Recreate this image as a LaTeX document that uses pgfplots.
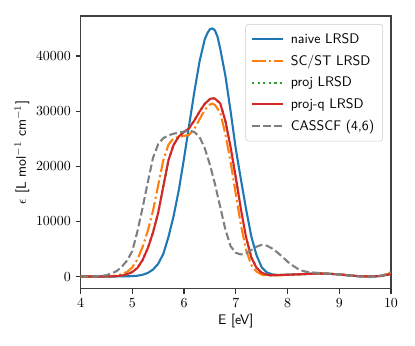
\documentclass[border=0pt]{standalone}
\usepackage{pgfplots}
\pgfplotsset{compat=1.18}
\usepackage{pgfplotstable}
\definecolor{tabblue}{HTML}{1F77B4}
\definecolor{taborange}{HTML}{FF7F0E}
\definecolor{tabgreen}{HTML}{2CA02C}
\definecolor{tabred}{HTML}{D62728}
\definecolor{tabgray}{HTML}{7F7F7F}
\pgfplotstableread{
x y
4.0 0
4.6 5
4.8 20
5.0 70
5.1 150
5.2 320
5.3 650
5.4 1250
5.5 2300
5.6 4100
5.7 7200
5.8 11000
5.9 15700
6.0 21400
6.1 27500
6.2 33500
6.3 39000
6.4 43000
6.45 44100
6.5 44850
6.55 45000
6.6 44600
6.65 43400
6.7 41300
6.8 36400
6.9 30000
7.0 23200
7.1 17600
7.2 12200
7.3 7300
7.4 3900
7.5 1700
7.6 750
7.7 400
7.8 300
8.0 320
8.2 400
8.4 480
8.6 560
8.8 500
9.0 380
9.2 200
9.4 50
9.6 0
9.8 100
10.0 450
}\naive
\pgfplotstableread{
x y
4.0 0
4.2 5
4.4 20
4.5 40
4.6 90
4.7 190
4.8 420
4.9 840
5.0 1660
5.1 3120
5.2 5360
5.3 8280
5.4 11900
5.5 16500
5.6 21100
5.7 23900
5.8 25100
5.9 25300
6.0 25500
6.1 25700
6.2 26800
6.3 28500
6.4 30200
6.5 31200
6.55 31350
6.6 31100
6.7 29700
6.8 25800
6.9 20800
7.0 15000
7.1 9300
7.2 4800
7.3 2100
7.4 900
7.5 350
7.6 150
7.7 150
7.8 220
8.0 300
8.2 390
8.4 470
8.6 550
8.8 500
9.0 380
9.2 200
9.4 50
9.6 0
9.8 150
10.0 600
}\scst
\pgfplotstableread{
x y
4.0 0
4.2 3
4.4 8
4.5 15
4.6 35
4.7 80
4.8 190
4.9 420
5.0 820
5.1 1560
5.2 3000
5.3 5140
5.4 7960
5.5 11540
5.6 16340
5.7 21100
5.8 23900
5.9 25400
6.0 26200
6.1 26900
6.2 28300
6.3 29900
6.4 31300
6.5 32200
6.57 32330
6.6 32250
6.7 31400
6.8 28200
6.9 23500
7.0 18000
7.1 12200
7.2 7100
7.3 3500
7.4 1600
7.5 700
7.6 330
7.7 230
7.8 250
8.0 320
8.2 400
8.4 480
8.6 560
8.8 500
9.0 380
9.2 200
9.4 50
9.6 0
9.8 100
10.0 450
}\projq
\pgfplotstableread{
x y
4.0 0
4.2 15
4.3 40
4.4 100
4.5 250
4.6 550
4.7 1000
4.8 1800
4.9 2900
5.0 4600
5.1 8200
5.2 12500
5.3 17100
5.4 21500
5.5 24000
5.6 25100
5.7 25600
5.8 25900
5.9 26100
6.0 26300
6.1 26500
6.2 26200
6.3 25300
6.4 23300
6.5 20300
6.6 16700
6.7 12600
6.8 8500
6.9 5500
7.0 4300
7.1 4000
7.2 4200
7.3 4800
7.4 5400
7.5 5750
7.6 5600
7.7 5100
7.8 4400
7.9 3600
8.0 2700
8.1 2000
8.2 1400
8.3 1000
8.4 800
8.6 650
8.8 500
9.0 400
9.2 150
9.4 0
9.6 -30
9.8 100
9.9 400
10.0 800
}\cas
\begin{document}
\begin{tikzpicture}
\begin{axis}[
  at={(0,0)}, anchor=south west,
  scale only axis, width=223.6pt, height=196.6pt,
  xmin=4, xmax=10, ymin=-2250, ymax=47250,
  xtick={4,5,6,7,8,9,10},
  ytick={0,10000,20000,30000,40000},
  scaled y ticks=false,
  yticklabel style={/pgf/number format/1000 sep={}},
  tick align=outside, tick pos=left,
  major tick length=3.5pt,
  every tick/.style={black!80, line width=0.8pt},
  axis line style={black!75, line width=0.8pt},
  xlabel={\textsf{E [eV]}},
  ylabel={$\epsilon$ \textsf{[L mol}$^{-1}$ \textsf{cm}$^{-1}$\textsf{]}},
  xlabel style={yshift=2pt},
  ylabel style={yshift=-2pt},
  legend cell align=left,
  legend style={at={(rel axis cs:1,1)}, anchor=north east, xshift=-5.8pt, yshift=-5.8pt,
    draw=black!20, rounded corners=2pt, font=\sffamily, row sep=2.8pt,
    inner xsep=4pt, inner ysep=4.5pt,
    fill=white, fill opacity=0.8, text opacity=1,
    /tikz/every odd column/.append style={column sep=3pt}},
  legend image code/.code={\draw[#1] (0pt,0pt) -- (22pt,0pt);},
  every axis plot/.append style={line width=1.5pt, line join=round},
]
\addplot[tabblue] table[x=x,y=y] {\naive};
\addlegendentry{naive LRSD}
\addplot[taborange, dash pattern=on 9.6pt off 2.4pt on 1.5pt off 2.4pt] table[x=x,y=y] {\scst};
\addlegendentry{SC/ST LRSD}
\addplot[tabgreen, dash pattern=on 1.5pt off 2.5pt] table[x=x,y=y] {\projq};
\addlegendentry{proj LRSD}
\addplot[tabred] table[x=x,y=y] {\projq};
\addlegendentry{proj-q LRSD}
\addplot[tabgray, dash pattern=on 5.55pt off 2.4pt] table[x=x,y=y] {\cas};
\addlegendentry{CASSCF (4,6)}
\end{axis}
\pgfresetboundingbox
\path (-58pt,-41pt) rectangle (240.9pt,208.1pt);
\end{tikzpicture}
\end{document}
